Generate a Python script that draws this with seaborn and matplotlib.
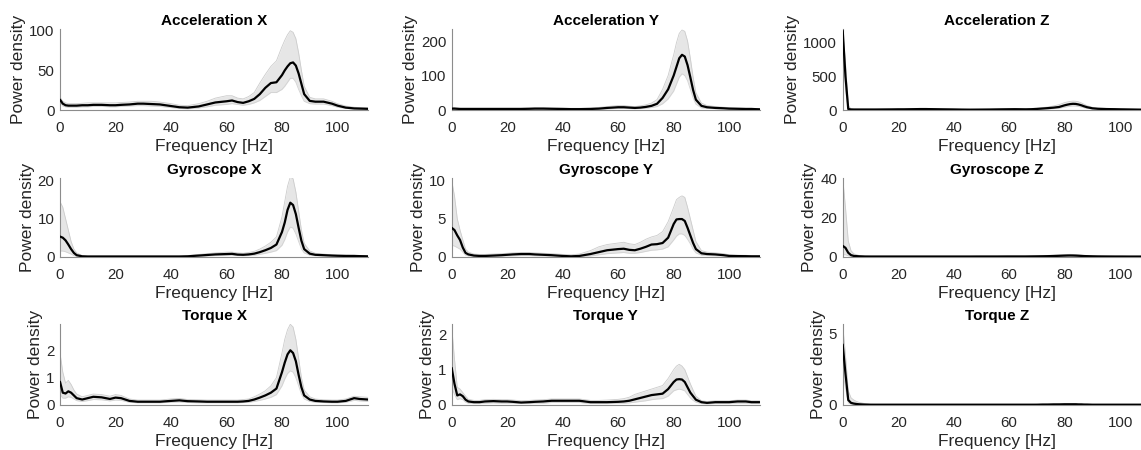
import numpy as np
import pandas as pd
import matplotlib
matplotlib.use("Agg")
import matplotlib.pyplot as plt
import seaborn as sns

# ---------------- data ----------------
freq_hz = [0, 1, 2, 3, 4, 5, 6,
           8, 10, 12, 15, 18, 20, 22,
           25, 28, 30, 33, 36, 40, 43, 46,
           50, 53, 56, 60, 62, 64, 66, 68,
           70, 72, 74, 76, 78,
           80, 81, 82, 83, 84, 85, 86, 87, 88,
           90, 92, 95, 98, 100, 103, 106, 108, 111]

titles = ["Acceleration X", "Acceleration Y", "Acceleration Z",
          "Gyroscope X", "Gyroscope Y", "Gyroscope Z",
          "Torque X", "Torque Y", "Torque Z"]

# Acceleration X
accx_mean = [13, 8, 6, 5.5, 5.5, 5.5, 5.5,
             6, 6, 6.5, 6.5, 6, 6, 6.5,
             7, 8, 8, 7.5, 7, 5, 3.5, 3,
             4.5, 7, 9.5, 11, 12, 10, 9, 11,
             14, 20, 28, 34, 35,
             44, 50, 55, 59, 60, 56, 46, 33, 20,
             11.5, 10.5, 10.5, 8, 5.5, 3, 2, 1.8, 1.5]
accx_hi = [16, 11, 9, 8, 8, 8, 8,
           8.5, 9, 9, 9, 9, 9, 9.5,
           10, 11, 11, 11, 10, 8, 6, 5.5,
           8, 11, 15, 18, 18, 15, 14, 17,
           22, 34, 45, 55, 62,
           80, 88, 95, 100, 98, 90, 72, 50, 30,
           16, 14, 14, 11, 8, 5, 3.5, 3, 2.5]
accx_lo = [10, 5, 4, 3.5, 3.5, 3.5, 3.5,
           4, 4, 4.5, 4.5, 4, 4, 4.5,
           5, 5.5, 5.5, 5, 4.5, 3, 2, 1.5,
           2.5, 4, 6, 7, 8, 7, 6, 7,
           9, 12, 17, 22, 22,
           26, 30, 35, 40, 40, 35, 26, 18, 11,
           8, 7.5, 7.5, 5.5, 3.5, 2, 1.2, 1, 1]

# Acceleration Y
accy_mean = [4, 4, 3.5, 3, 3, 3, 3,
             3, 3, 3, 3, 3, 3, 3,
             3, 3.5, 4, 4, 3.5, 3, 2.5, 2.5,
             3, 4, 6, 8, 8, 7, 6, 7,
             9, 12, 18, 35, 60,
             100, 125, 150, 160, 155, 130, 95, 58, 30,
             12, 8, 6, 5, 4, 3.5, 3, 3, 2]
accy_hi = [8, 7, 6, 5.5, 5.5, 5.5, 5.5,
           5.5, 5.5, 5.5, 5.5, 5.5, 5.5, 5.5,
           5.5, 6, 6.5, 6.5, 6, 5.5, 5, 5,
           6, 7.5, 10, 13, 13, 11, 10, 12,
           15, 20, 30, 60, 100,
           160, 195, 222, 232, 228, 200, 150, 95, 50,
           20, 13, 10, 8, 7, 6, 5, 5, 4]
accy_lo = [2, 2, 1.5, 1.5, 1.5, 1.5, 1.5,
           1.5, 1.5, 1.5, 1.5, 1.5, 1.5, 1.5,
           1.5, 2, 2, 2, 2, 1.5, 1, 1,
           1.5, 2, 3, 4.5, 4.5, 4, 3.5, 4,
           5, 7, 10, 18, 32,
           55, 75, 95, 105, 100, 85, 60, 35, 17,
           6, 4.5, 3.5, 3, 2.5, 2, 1.5, 1.5, 1]

# Acceleration Z
accz_mean = [1180, 500, 15, 8, 7, 7, 7,
             7, 7, 7, 8, 9, 10, 10,
             12, 14, 14, 12, 10, 8, 6, 5,
             6, 7, 9, 11, 12, 11, 10, 12,
             16, 22, 28, 35, 45,
             70, 80, 88, 92, 90, 82, 70, 55, 42,
             25, 18, 14, 12, 10, 8, 6, 5, 4]
accz_hi = [1200, 700, 60, 20, 15, 14, 14,
           14, 14, 14, 15, 16, 18, 18,
           20, 24, 24, 22, 18, 15, 12, 10,
           12, 14, 16, 20, 22, 20, 18, 22,
           28, 36, 45, 60, 80,
           110, 120, 128, 132, 130, 122, 105, 85, 65,
           40, 30, 24, 20, 17, 14, 11, 9, 8]
accz_lo = [1100, 300, 5, 3, 3, 3, 3,
           3, 3, 3, 4, 4, 5, 5,
           6, 7, 7, 6, 5, 4, 3, 2.5,
           3, 3.5, 5, 6, 6, 6, 5, 6,
           8, 11, 15, 20, 27,
           42, 50, 56, 60, 58, 52, 45, 33, 25,
           14, 10, 8, 6, 5, 4, 3, 2.5, 2]

# Gyroscope X
gyrx_mean = [5.3, 5.0, 4.3, 3.2, 2.0, 1.0, 0.4,
             0.1, 0.05, 0.05, 0.05, 0.05, 0.05, 0.05,
             0.05, 0.05, 0.05, 0.05, 0.05, 0.05, 0.05, 0.1,
             0.3, 0.45, 0.6, 0.7, 0.75, 0.55, 0.5, 0.6,
             0.8, 1.2, 1.7, 2.3, 3.2,
             6.5, 9.0, 12.3, 14.2, 13.6, 11.2, 7.6, 4.2, 2.0,
             0.8, 0.5, 0.4, 0.3, 0.25, 0.2, 0.2, 0.15, 0.1]
gyrx_hi = [14.5, 13, 10, 7, 4, 2, 1,
           0.3, 0.2, 0.2, 0.2, 0.2, 0.2, 0.2,
           0.2, 0.2, 0.2, 0.2, 0.2, 0.2, 0.2, 0.3,
           0.6, 0.8, 1.0, 1.2, 1.2, 1.0, 0.9, 1.1,
           1.4, 2.0, 2.8, 3.8, 5.2,
           10.5, 14.5, 18.5, 21, 20.5, 17, 12, 7, 3.5,
           1.5, 0.9, 0.7, 0.5, 0.45, 0.4, 0.35, 0.3, 0.25]
gyrx_lo = [1.5, 1.5, 1.3, 1.0, 0.7, 0.3, 0.1,
           0.02, 0.02, 0.02, 0.02, 0.02, 0.02, 0.02,
           0.02, 0.02, 0.02, 0.02, 0.02, 0.02, 0.02, 0.03,
           0.1, 0.2, 0.3, 0.35, 0.4, 0.3, 0.25, 0.3,
           0.4, 0.6, 0.9, 1.2, 1.6,
           3.0, 4.5, 6.5, 7.8, 7.5, 6.0, 4.0, 2.0, 1.0,
           0.4, 0.25, 0.2, 0.15, 0.12, 0.1, 0.1, 0.08, 0.05]

# Gyroscope Y
gyry_mean = [3.8, 3.5, 2.8, 2.2, 1.2, 0.5, 0.3,
             0.15, 0.1, 0.1, 0.15, 0.2, 0.25, 0.3,
             0.35, 0.35, 0.3, 0.25, 0.2, 0.1, 0.05, 0.1,
             0.35, 0.6, 0.85, 1.0, 1.05, 0.9, 0.85, 1.05,
             1.3, 1.6, 1.65, 1.8, 2.5,
             4.3, 4.9, 4.95, 4.95, 4.7, 3.8, 2.8, 1.8, 1.0,
             0.45, 0.35, 0.3, 0.2, 0.1, 0.08, 0.07, 0.05, 0.05]
gyry_hi = [10, 8, 5, 3.5, 2.2, 1.0, 0.6,
           0.35, 0.3, 0.3, 0.35, 0.4, 0.45, 0.5,
           0.55, 0.55, 0.5, 0.45, 0.4, 0.3, 0.25, 0.35,
           0.8, 1.3, 1.6, 1.8, 1.9, 1.7, 1.6, 1.9,
           2.3, 2.6, 2.8, 3.3, 4.6,
           6.5, 7.5, 7.8, 8.0, 7.8, 6.5, 5.0, 3.5, 2.0,
           0.8, 0.6, 0.5, 0.4, 0.25, 0.2, 0.18, 0.15, 0.12]
gyry_lo = [1.5, 1.4, 1.2, 1.0, 0.6, 0.2, 0.1,
           0.05, 0.03, 0.03, 0.05, 0.08, 0.1, 0.12,
           0.15, 0.15, 0.12, 0.1, 0.08, 0.03, 0.01, 0.03,
           0.1, 0.25, 0.4, 0.5, 0.55, 0.45, 0.45, 0.55,
           0.7, 0.85, 0.9, 1.0, 1.3,
           2.2, 2.7, 3.0, 3.0, 2.8, 2.3, 1.7, 1.0, 0.5,
           0.2, 0.15, 0.12, 0.08, 0.04, 0.03, 0.03, 0.02, 0.02]

# Gyroscope Z
gyrz_mean = [5.5, 4.5, 2.0, 0.8, 0.4, 0.3, 0.2,
             0.1, 0.08, 0.08, 0.08, 0.08, 0.08, 0.08,
             0.08, 0.08, 0.08, 0.08, 0.08, 0.08, 0.08, 0.08,
             0.1, 0.1, 0.1, 0.12, 0.12, 0.12, 0.12, 0.15,
             0.18, 0.22, 0.28, 0.35, 0.45,
             0.55, 0.6, 0.62, 0.6, 0.55, 0.48, 0.4, 0.33, 0.28,
             0.2, 0.15, 0.12, 0.1, 0.1, 0.08, 0.08, 0.08, 0.08]
gyrz_hi = [40, 25, 8, 3, 1.5, 1.0, 0.6,
           0.3, 0.3, 0.3, 0.3, 0.3, 0.3, 0.3,
           0.3, 0.3, 0.3, 0.3, 0.3, 0.3, 0.3, 0.3,
           0.3, 0.3, 0.3, 0.35, 0.35, 0.35, 0.35, 0.4,
           0.45, 0.55, 0.65, 0.8, 0.95,
           1.1, 1.15, 1.2, 1.15, 1.1, 0.95, 0.8, 0.65, 0.55,
           0.4, 0.3, 0.25, 0.2, 0.2, 0.18, 0.18, 0.18, 0.18]
gyrz_lo = [1.0, 1.0, 0.5, 0.2, 0.1, 0.08, 0.05,
           0.02, 0.02, 0.02, 0.02, 0.02, 0.02, 0.02,
           0.02, 0.02, 0.02, 0.02, 0.02, 0.02, 0.02, 0.02,
           0.03, 0.03, 0.03, 0.03, 0.03, 0.03, 0.03, 0.03,
           0.05, 0.06, 0.08, 0.1, 0.15,
           0.2, 0.22, 0.24, 0.22, 0.2, 0.18, 0.15, 0.12, 0.1,
           0.06, 0.04, 0.03, 0.03, 0.03, 0.02, 0.02, 0.02, 0.02]

# Torque X
torx_mean = [0.85, 0.45, 0.42, 0.5, 0.45, 0.35, 0.25,
             0.2, 0.25, 0.3, 0.28, 0.22, 0.27, 0.25,
             0.15, 0.12, 0.12, 0.12, 0.12, 0.15, 0.17, 0.14,
             0.13, 0.12, 0.12, 0.12, 0.12, 0.12, 0.13, 0.15,
             0.2, 0.27, 0.35, 0.45, 0.6,
             1.2, 1.55, 1.85, 2.0, 1.9, 1.6, 1.1, 0.65, 0.35,
             0.2, 0.15, 0.13, 0.12, 0.12, 0.15, 0.25, 0.22, 0.2]
torx_hi = [1.9, 1.2, 0.8, 0.9, 0.75, 0.55, 0.4,
           0.3, 0.35, 0.4, 0.38, 0.32, 0.38, 0.35,
           0.22, 0.18, 0.18, 0.18, 0.18, 0.22, 0.24, 0.2,
           0.19, 0.18, 0.18, 0.18, 0.18, 0.18, 0.2, 0.22,
           0.3, 0.4, 0.52, 0.7, 1.0,
           1.9, 2.4, 2.75, 2.95, 2.85, 2.4, 1.7, 1.0, 0.55,
           0.3, 0.22, 0.19, 0.18, 0.18, 0.22, 0.32, 0.3, 0.28]
torx_lo = [0.4, 0.25, 0.25, 0.3, 0.28, 0.22, 0.16,
           0.13, 0.16, 0.2, 0.19, 0.15, 0.18, 0.17,
           0.1, 0.08, 0.08, 0.08, 0.08, 0.1, 0.11, 0.09,
           0.08, 0.08, 0.08, 0.08, 0.08, 0.08, 0.09, 0.1,
           0.13, 0.17, 0.22, 0.28, 0.38,
           0.7, 0.95, 1.15, 1.25, 1.2, 1.0, 0.7, 0.4, 0.22,
           0.13, 0.1, 0.09, 0.08, 0.08, 0.1, 0.17, 0.15, 0.13]

# Torque Y
tory_mean = [1.05, 0.6, 0.27, 0.3, 0.25, 0.15, 0.1,
             0.08, 0.08, 0.1, 0.11, 0.1, 0.1, 0.09,
             0.07, 0.08, 0.09, 0.1, 0.12, 0.12, 0.12, 0.12,
             0.08, 0.08, 0.08, 0.09, 0.1, 0.12, 0.16, 0.2,
             0.24, 0.28, 0.3, 0.32, 0.45,
             0.65, 0.72, 0.73, 0.72, 0.65, 0.5, 0.35, 0.25, 0.15,
             0.08, 0.06, 0.08, 0.08, 0.08, 0.1, 0.1, 0.08, 0.08]
tory_hi = [2.2, 1.3, 0.5, 0.45, 0.35, 0.25, 0.16,
           0.13, 0.13, 0.15, 0.16, 0.15, 0.15, 0.14,
           0.12, 0.13, 0.14, 0.15, 0.17, 0.17, 0.17, 0.17,
           0.13, 0.13, 0.14, 0.16, 0.18, 0.22, 0.3, 0.35,
           0.4, 0.45, 0.5, 0.55, 0.75,
           1.0, 1.1, 1.15, 1.1, 1.0, 0.8, 0.6, 0.42, 0.25,
           0.12, 0.1, 0.12, 0.12, 0.12, 0.14, 0.14, 0.12, 0.12]
tory_lo = [0.5, 0.3, 0.15, 0.18, 0.15, 0.08, 0.05,
           0.04, 0.04, 0.05, 0.06, 0.05, 0.05, 0.05,
           0.04, 0.04, 0.05, 0.05, 0.07, 0.07, 0.07, 0.07,
           0.04, 0.04, 0.04, 0.05, 0.05, 0.06, 0.08, 0.1,
           0.12, 0.15, 0.17, 0.18, 0.25,
           0.4, 0.43, 0.45, 0.43, 0.4, 0.3, 0.2, 0.13, 0.08,
           0.04, 0.03, 0.04, 0.04, 0.04, 0.05, 0.05, 0.04, 0.04]

# Torque Z
torz_mean = [4.25, 2.2, 0.35, 0.15, 0.1, 0.07, 0.05,
             0.03, 0.02, 0.02, 0.02, 0.02, 0.02, 0.02,
             0.02, 0.02, 0.02, 0.02, 0.02, 0.02, 0.02, 0.02,
             0.02, 0.02, 0.02, 0.02, 0.02, 0.02, 0.02, 0.02,
             0.02, 0.03, 0.03, 0.04, 0.04,
             0.05, 0.05, 0.05, 0.05, 0.05, 0.04, 0.04, 0.03, 0.03,
             0.02, 0.02, 0.02, 0.02, 0.02, 0.02, 0.02, 0.02, 0.02]
torz_hi = [5.6, 3.5, 1.0, 0.5, 0.35, 0.25, 0.18,
           0.1, 0.06, 0.05, 0.05, 0.05, 0.05, 0.05,
           0.05, 0.05, 0.05, 0.05, 0.05, 0.05, 0.05, 0.05,
           0.05, 0.05, 0.05, 0.05, 0.05, 0.05, 0.05, 0.05,
           0.06, 0.07, 0.08, 0.09, 0.1,
           0.11, 0.11, 0.11, 0.11, 0.1, 0.09, 0.08, 0.07, 0.06,
           0.05, 0.05, 0.05, 0.05, 0.05, 0.05, 0.05, 0.05, 0.05]
torz_lo = [2.5, 1.2, 0.15, 0.06, 0.04, 0.03, 0.02,
           0.01, 0.01, 0.01, 0.01, 0.01, 0.01, 0.01,
           0.01, 0.01, 0.01, 0.01, 0.01, 0.01, 0.01, 0.01,
           0.01, 0.01, 0.01, 0.01, 0.01, 0.01, 0.01, 0.01,
           0.01, 0.01, 0.01, 0.01, 0.01,
           0.02, 0.02, 0.02, 0.02, 0.02, 0.02, 0.02, 0.02, 0.02,
           0.01, 0.01, 0.01, 0.01, 0.01, 0.01, 0.01, 0.01, 0.01]

y_max = [101.8, 234, 1200, 20.7, 10.35, 40, 2.96, 2.29, 5.69]
y_ticks = [[0, 50, 100], [0, 100, 200], [0, 500, 1000],
           [0, 10, 20], [0, 5, 10], [0, 20, 40],
           [0, 1, 2], [0, 1, 2], [0, 5]]
x_ticks = [0, 20, 40, 60, 80, 100]

means = [accx_mean, accy_mean, accz_mean, gyrx_mean, gyry_mean, gyrz_mean,
         torx_mean, tory_mean, torz_mean]
highs = [accx_hi, accy_hi, accz_hi, gyrx_hi, gyry_hi, gyrz_hi,
         torx_hi, tory_hi, torz_hi]
lows = [accx_lo, accy_lo, accz_lo, gyrx_lo, gyry_lo, gyrz_lo,
        torx_lo, tory_lo, torz_lo]

# ---------------- style ----------------
sns.set_theme(style="white")
plt.rcParams["font.family"] = ["Liberation Sans", "DejaVu Sans"]
TXT = "#262626"

W, H = 1141, 450
fig = plt.figure(figsize=(W / 100, H / 100), dpi=100)

col_left = [60, 451.7, 842.7]
row_top = [29.3, 178, 324]
row_bot = [110, 256.7, 405]
ax_w = 308

for i in range(9):
    r, c = divmod(i, 3)
    rect = [col_left[c] / W, 1 - row_bot[r] / H, ax_w / W, (row_bot[r] - row_top[r]) / H]
    ax = fig.add_axes(rect)
    df = pd.DataFrame({"freq": freq_hz, "mean": means[i], "hi": highs[i], "lo": lows[i]})
    ax.fill_between(df["freq"], df["lo"], df["hi"], color="#e6e6e6", lw=0, zorder=1)
    sns.lineplot(data=df, x="freq", y="hi", ax=ax, color="#cccccc", lw=0.6, zorder=2)
    sns.lineplot(data=df, x="freq", y="lo", ax=ax, color="#d2d2d2", lw=0.6, zorder=2)
    sns.lineplot(data=df, x="freq", y="mean", ax=ax, color="black", lw=1.6, zorder=3)
    ax.set_xlim(0, 111)
    ax.set_ylim(0, y_max[i])
    ax.set_xticks(x_ticks)
    ax.set_yticks(y_ticks[i])
    ax.set_title(titles[i], fontsize=11, fontweight="bold", color="black", pad=3)
    ax.set_xlabel("Frequency [Hz]", fontsize=12.5, color=TXT, labelpad=3)
    ax.set_ylabel("Power density", fontsize=12.5, color=TXT, labelpad=2)
    ax.tick_params(axis="both", labelsize=10.8, colors=TXT, direction="in",
                   length=3, width=0.6)
    ax.tick_params(axis="x", pad=8)
    ax.tick_params(axis="y", pad=4)
    for s in ["top", "right"]:
        ax.spines[s].set_visible(False)
    for s in ["left", "bottom"]:
        ax.spines[s].set_color("#8c8c8c")
        ax.spines[s].set_linewidth(0.8)
    ax.set_facecolor("white")

fig.savefig("out.png", dpi=100)
